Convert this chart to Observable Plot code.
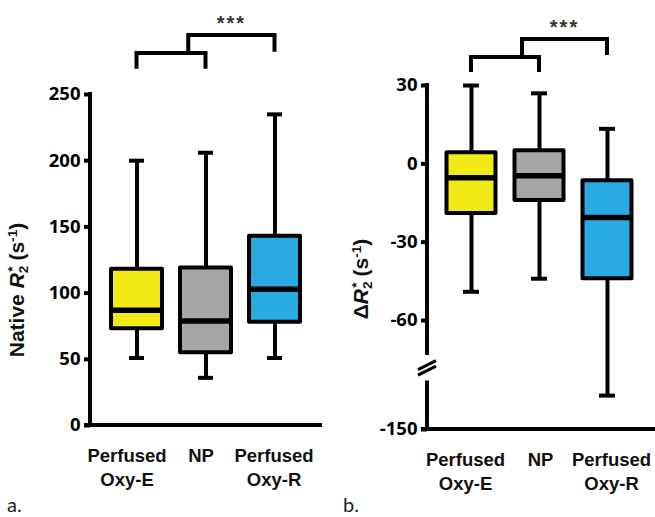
<!DOCTYPE html>
<html><head><meta charset="utf-8">
<script src="https://cdn.jsdelivr.net/npm/d3@7"></script>
<script src="https://cdn.jsdelivr.net/npm/@observablehq/plot@0.6"></script>
<style>
body{margin:0;background:#fff;}
#root{position:relative;width:655px;height:517px;overflow:hidden;background:#fff;}
.panel{position:absolute;top:0;}
.ylab{position:absolute;white-space:nowrap;font-family:"Liberation Sans",Arial,sans-serif;font-weight:bold;font-size:21px;line-height:1;transform:translate(-50%,-50%) rotate(-90deg);color:#111;}
.ylab sub{font-size:0.65em;vertical-align:-0.25em;}
.ylab sup{font-size:0.65em;vertical-align:0.55em;}
.ylab sup.star{margin-left:-0.45em;}
.plab{position:absolute;font-family:"Lato","Open Sans",sans-serif;font-size:20px;line-height:1;color:#222;}
</style></head><body><div id="root"></div>
<script>
// ---- data ----
const categories = ["Perfused Oxy-E", "NP", "Perfused Oxy-R"];
const tickLabels = ["Perfused\nOxy-E", "NP", "Perfused\nOxy-R"];
const boxColors = ["#F2EA17", "#A6A6A6", "#29ABE2"];

// panel a: Native R2*
const nativeMin = [51, 36, 51];
const nativeQ1 = [73, 55, 78];
const nativeMedian = [87, 79, 103];
const nativeQ3 = [118, 119, 143];
const nativeMax = [200, 206, 235];
const nativeTicks = [0, 50, 100, 150, 200, 250];

// panel b: delta R2*
const deltaMin = [-49, -44, -122];
const deltaQ1 = [-19, -14, -44];
const deltaMedian = [-5.3, -4.6, -20.6];
const deltaQ3 = [4.2, 5, -6.5];
const deltaMax = [30, 27, 13.4];
const deltaTicks = [30, 0, -30, -60, -150];

const significance = "***";

// ---- drawing ----
const root = document.getElementById("root");
const SW = 4;

function makePanel(cfg) {
  const rows = categories.map((c, i) => ({
    cat: c, lo: cfg.min[i], q1: cfg.q1[i], med: cfg.med[i], q3: cfg.q3[i], hi: cfg.max[i], color: boxColors[i]
  }));
  const top = d3.max(cfg.ticks), bottom = d3.min(cfg.ticks);

  const axesMark = (index, scales, values, dims) => {
    const y = scales.y;
    const ml = dims.marginLeft, xr = dims.width - dims.marginRight;
    const g = d3.create("svg:g").attr("fill", "none").attr("stroke", "#000").attr("stroke-width", SW);
    if (cfg.gap) {
      g.append("path").attr("d", `M${ml},${y(top) - 2}V${y(cfg.gap[0])}M${ml},${y(cfg.gap[1])}V${y(bottom)}`);
      const yc = (y(cfg.gap[0]) + y(cfg.gap[1])) / 2;
      for (const o of [-2.8, 2.8]) {
        g.append("path").attr("stroke-width", 3)
          .attr("d", `M${ml - 9},${yc + o + 4.5}L${ml + 9},${yc + o - 4.5}`);
      }
    } else {
      g.append("path").attr("d", `M${ml},${y(top) - 2}V${y(bottom)}`);
    }
    g.append("path").attr("d", `M${ml - 6},${y(bottom)}H${xr}`);
    return g.node();
  };

  const bracketMark = (index, scales, values, dims) => {
    const x = scales.x, y = scales.y;
    const step = x(categories[1]) - x(categories[0]);
    const cx = c => x(c) + step / 2;
    const x0 = cx(categories[0]), x1 = cx(categories[1]), x2 = cx(categories[2]);
    const xm = x0 + 0.75 * (x1 - x0);
    const b = cfg.bracket;
    const g = d3.create("svg:g");
    g.append("path").attr("fill", "none").attr("stroke", "#000").attr("stroke-width", SW)
      .attr("d", `M${x0},${y(b.leg)}V${y(b.low)}H${x1}V${y(b.leg)}M${xm},${y(b.low)}V${y(b.high)}H${x2}V${y(b.right)}`);
    g.append("text").attr("x", (xm + x2) / 2).attr("y", y(b.high) - 5)
      .attr("text-anchor", "middle").attr("font-family", "Liberation Sans, Arial, sans-serif")
      .attr("font-size", 20).attr("font-weight", "bold").attr("letter-spacing", 2)
      .attr("fill", "#333").text(significance);
    return g.node();
  };

  return Plot.plot({
    width: cfg.width, height: 517,
    marginLeft: cfg.ml, marginRight: cfg.mr, marginTop: cfg.mt, marginBottom: cfg.mb,
    style: {background: "transparent", overflow: "visible"},
    x: {type: "band", domain: categories, range: cfg.xRange, padding: 0, axis: null},
    y: {type: "linear", domain: cfg.yDomain, range: cfg.yRange, axis: null},
    color: {type: "identity"},
    marks: [
      Plot.ruleX(rows, {x: "cat", y1: "lo", y2: "hi", stroke: "#000", strokeWidth: SW}),
      Plot.tickY(rows, {x: "cat", y: "hi", inset: cfg.capInset, stroke: "#000", strokeWidth: SW}),
      Plot.tickY(rows, {x: "cat", y: "lo", inset: cfg.capInset, stroke: "#000", strokeWidth: SW}),
      Plot.barY(rows, {x: "cat", y1: "q1", y2: "q3", fill: "color", stroke: "#000", strokeWidth: SW,
        strokeLinejoin: "round", insetLeft: cfg.boxInset, insetRight: cfg.boxInset}),
      Plot.tickY(rows, {x: "cat", y: "med", inset: cfg.boxInset, stroke: "#000", strokeWidth: 5.5}),
      Plot.axisY({ticks: cfg.ticks, tickSize: 6, tickPadding: 4, strokeWidth: SW, color: "#000",
        fontSize: 18.5, fontWeight: "bold", fontFamily: "Open Sans", label: null, tickFormat: d => String(d)}),
      ...categories.map((c, i) => Plot.axisX({ticks: [c], tickSize: 0, tickPadding: 19, dx: cfg.labelDx[i],
        tickFormat: () => tickLabels[i], fontSize: 18.5, fontWeight: "bold", fontFamily: "Liberation Sans",
        lineHeight: 1.3, color: "#111", label: null})),
      axesMark,
      bracketMark
    ]
  });
}

const panelA = makePanel({
  width: 330, ml: 90, mr: 8, mt: 94, mb: 92,
  xRange: [101.5, 308.5], yDomain: [0, 250], yRange: [425, 94],
  min: nativeMin, q1: nativeQ1, med: nativeMedian, q3: nativeQ3, max: nativeMax,
  ticks: nativeTicks, boxInset: 9, capInset: 27, labelDx: [-10, -5, -1],
  bracket: {leg: 269, low: 281, high: 294.5, right: 282}
});
panelA.classList.add("panel");
panelA.style.left = "0px";
root.appendChild(panelA);

const panelB = makePanel({
  width: 325, ml: 97, mr: 0, mt: 85, mb: 88,
  xRange: [106, 312], yDomain: [-150, -60, 30], yRange: [429, 320, 85],
  min: deltaMin, q1: deltaQ1, med: deltaMedian, q3: deltaQ3, max: deltaMax,
  ticks: deltaTicks, boxInset: 9.5, capInset: 26, labelDx: [-6, 1, 4], gap: [-89, -110],
  bracket: {leg: 35, low: 40.7, high: 47.6, right: 41.5}
});
panelB.classList.add("panel");
panelB.style.left = "330px";
root.appendChild(panelB);

function addLabel(html, cx, cy) {
  const d = document.createElement("div");
  d.className = "ylab";
  d.innerHTML = html;
  d.style.left = cx + "px";
  d.style.top = cy + "px";
  root.appendChild(d);
}
addLabel('Native <i>R</i><sub>2</sub><sup class="star">*</sup> (s<sup>-1</sup>)', 18, 290);
addLabel('Δ<i>R</i><sub>2</sub><sup class="star">*</sup> (s<sup>-1</sup>)', 362, 279);

function addPanelLetter(t, left) {
  const d = document.createElement("div");
  d.className = "plab";
  d.textContent = t;
  d.style.left = left + "px";
  d.style.top = "494px";
  root.appendChild(d);
}
addPanelLetter("a.", 7);
addPanelLetter("b.", 343);
</script>
</body></html>
